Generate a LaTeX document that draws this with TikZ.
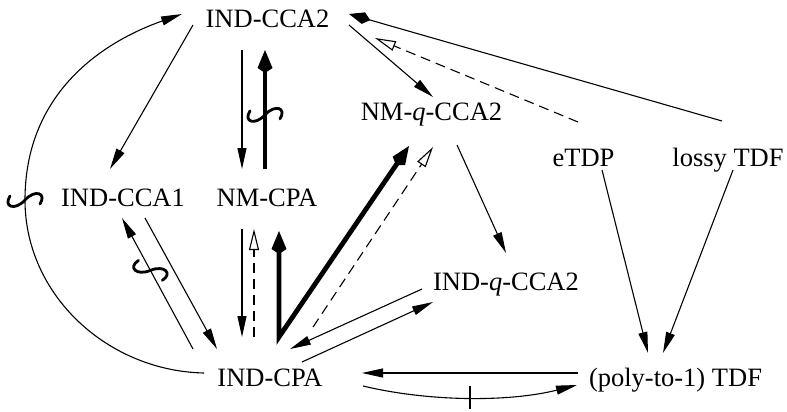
\documentclass[tikz,border=0pt]{standalone}
\usepackage{fontspec}
\setmainfont{Liberation Serif}
\usetikzlibrary{arrows.meta,calc}
\tikzset{
  lbl/.style={anchor=base, inner sep=0pt, font=\fontsize{13.25}{16}\selectfont},
  arr/.style={line width=0.55pt, -{Triangle[length=10.5pt,width=4.5pt]}},
  darr/.style={line width=0.55pt, dash pattern=on 5pt off 3pt, -{Triangle[open,length=10.5pt,width=5pt,fill=white]}},
  tarr/.style={line width=2.4pt, -{Kite[length=11.5pt,width=7.5pt,inset=2.5pt]}},
  tarrb/.style={line width=2.4pt, {Kite[length=11.5pt,width=7.5pt,inset=2.5pt]}-{Kite[length=11.5pt,width=7.5pt,inset=2.5pt]}},
  karr/.style={line width=0.55pt, -{Kite[length=11pt,width=6pt,inset=3.5pt]}},
  bar/.style={line width=1pt},
  sq/.pic={\draw[line width=1.4pt, line cap=round] (-15,-4) .. controls (-22,7) and (-10,11) .. (0,0) .. controls (10,-11) and (22,-7) .. (15,4);}
}
\begin{document}
\begin{tikzpicture}[x=0.5pt,y=-0.5pt]
\useasboundingbox (0,0) rectangle (787,412);
% nodes
\node[lbl] (cca2) at (267.5,27) {IND-CCA2};
\node[lbl] (cca1) at (123,206) {IND-CCA1};
\node[lbl] (nmcpa) at (267,206) {NM-CPA};
\node[lbl] (nmq) at (431.5,120) {NM-\textit{q}-CCA2};
\node[lbl] (etdp) at (583.5,166) {eTDP};
\node[lbl] (lossy) at (728,166) {lossy TDF};
\node[lbl] (indq) at (506,290) {IND-\textit{q}-CCA2};
\node[lbl] (cpa) at (270,386) {IND-CPA};
\node[lbl] (tdf) at (675.5,386) {(poly-to-1) TDF};
% edges
\draw[arr] ($(cca2.base)+(-74.5,-2)$) -- ($(cca1.base)+(-13,-37)$);
\draw[arr] ($(cca2.base)+(-25.5,23)$) -- ($(nmcpa.base)+(-25,-37)$);
\coordinate (t3s) at ($(nmcpa.base)+(-2,-37)$);
\coordinate (t3e) at ($(cca2.base)+(-2.5,23)$);
\draw[tarr] (t3s) -- (t3e);
\pic at ($(t3s)!0.455!(t3e)$) {sq};
\draw[arr] ($(cca2.base)+(81.5,-2)$) -- ($(nmq.base)+(1.5,-23)$);
\draw[arr] ($(nmq.base)+(25.5,25)$) -- ($(indq.base)+(0,-37)$);
\draw[darr] ($(etdp.base)+(-5.5,-44)$) -- ($(cca2.base)+(107.5,11)$);
\draw[karr] ($(lossy.base)+(-6,-45)$) -- ($(cca2.base)+(81.5,-13)$);
\draw[arr] ($(etdp.base)+(18.5,4)$) -- ($(tdf.base)+(-27.5,-33)$);
\draw[arr] ($(lossy.base)+(5,4)$) -- ($(tdf.base)+(-12.5,-33)$);
\draw[arr] ($(cca1.base)+(22,12)$) -- ($(cpa.base)+(-53,-37)$);
\coordinate (t11s) at ($(cpa.base)+(-77,-37)$);
\coordinate (t11e) at ($(cca1.base)+(-1,12)$);
\draw[arr] (t11s) -- (t11e);
\pic[rotate=-25] at ($(t11s)!0.6!(t11e)$) {sq};
\draw[arr] ($(nmcpa.base)+(-25,23)$) -- ($(cpa.base)+(-28,-49)$);
\draw[darr] ($(cpa.base)+(-16,-49)$) -- ($(nmcpa.base)+(-13,23)$);
\draw[tarrb] ($(nmcpa.base)+(12,25)$) -- ($(cpa.base)+(9,-49)$) -- ($(nmq.base)+(-22.5,26)$);
\draw[darr] ($(cpa.base)+(43,-59)$) -- ($(nmq.base)+(1.5,27)$);
\draw[arr] ($(indq.base)+(-84,-1)$) -- ($(cpa.base)+(20,-37)$);
\draw[arr] ($(cpa.base)+(32,-24)$) -- ($(indq.base)+(-73,12)$);
\draw[arr] ($(tdf.base)+(-97.5,-13)$) -- ($(cpa.base)+(92,-13)$);
\draw[arr] ($(cpa.base)+(93,0)$) .. controls (430,402) and (510,402) .. ($(tdf.base)+(-98.5,-1)$);
\draw[bar] (470,385.5) -- (470,408.5);
\coordinate (arcl) at (25,200);
\draw[arr] ($(cpa.base)+(-66,-13)$) .. controls (108,371) and (25,295.5) .. (arcl) .. controls (25,97) and (97,44) .. ($(cca2.base)+(-85.5,-13)$);
\pic at (arcl) {sq};
\end{tikzpicture}
\end{document}
